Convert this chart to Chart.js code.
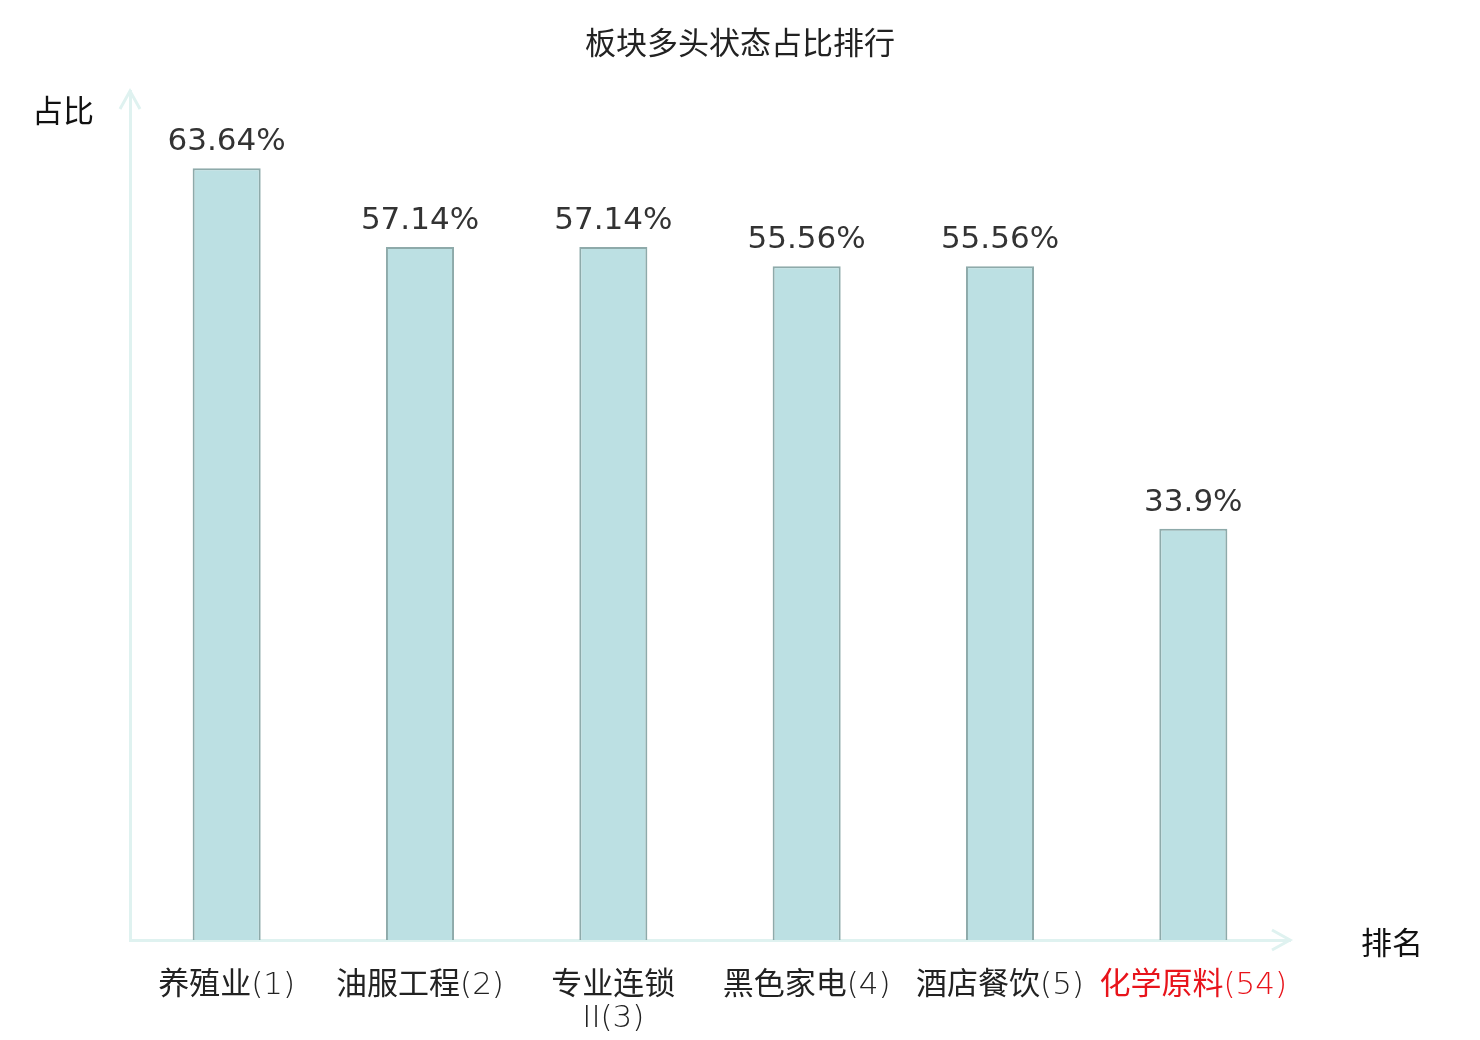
<!DOCTYPE html>
<html><head><meta charset="utf-8">
<script src="https://cdn.jsdelivr.net/npm/chart.js@4/dist/chart.umd.min.js"></script>
<style>html,body{margin:0;padding:0;background:#fff}#wrap{width:1480px;height:1040px}</style>
</head><body><div id="wrap"><canvas id="c" width="1480" height="1040"></canvas></div>
<script>
const categories = ["养殖业(1)", "油服工程(2)", ["专业连锁", "II(3)"], "黑色家电(4)", "酒店餐饮(5)", "化学原料(54)"];
const values = [63.64, 57.14, 57.14, 55.56, 55.56, 33.9];
const valueLabels = ["63.64%", "57.14%", "57.14%", "55.56%", "55.56%", "33.9%"];
const highlightIndex = 5;
const titleText = "板块多头状态占比排行";
const yTitle = "占比";
const xTitle = "排名";

const FONT = "'DejaVu Sans', 'Noto Sans CJK SC', sans-serif";
const CJK = "'Noto Sans CJK SC', 'DejaVu Sans', sans-serif";
const LABEL = "'DejaVu Sans Light', 'Noto Sans CJK SC', sans-serif";
const AXIS = "#dff2f0";

const deco = {
  id: 'deco',
  afterDraw(chart) {
    const {ctx, chartArea: a} = chart;
    ctx.save();
    ctx.fillStyle = '#222';
    ctx.font = "31px " + CJK;
    ctx.textAlign = 'center';
    ctx.textBaseline = 'middle';
    ctx.fillText(titleText, 740, 42);
    ctx.fillStyle = '#111';
    ctx.fillText(yTitle, 63, 110);
    ctx.fillText(xTitle, 1392, 942);
    ctx.strokeStyle = AXIS;
    ctx.lineWidth = 3;
    ctx.beginPath();
    ctx.moveTo(a.left - 10, a.top + 18);
    ctx.lineTo(a.left, a.top);
    ctx.lineTo(a.left + 10, a.top + 18);
    ctx.moveTo(a.right - 18, a.bottom - 10);
    ctx.lineTo(a.right, a.bottom);
    ctx.lineTo(a.right - 18, a.bottom + 10);
    ctx.stroke();
    const meta = chart.getDatasetMeta(0);
    ctx.fillStyle = '#333';
    ctx.font = "31px " + FONT;
    ctx.textBaseline = 'alphabetic';
    meta.data.forEach((bar, i) => {
      ctx.fillText(valueLabels[i], bar.x, bar.y - 18);
    });
    ctx.restore();
  }
};

new Chart(document.getElementById('c'), {
  type: 'bar',
  data: {
    labels: categories,
    datasets: [{
      data: values,
      backgroundColor: '#bce0e3',
      borderColor: '#8eaaaa',
      borderWidth: 2,
      categoryPercentage: 1,
      barPercentage: 0.352
    }]
  },
  options: {
    responsive: false,
    animation: false,
    layout: {padding: {left: 130, right: 190, top: 91, bottom: 0}},
    plugins: {legend: {display: false}, tooltip: {enabled: false}, title: {display: false}},
    scales: {
      x: {
        grid: {display: false, drawTicks: false},
        border: {display: true, color: AXIS, width: 3},
        ticks: {
          font: {size: 31, family: LABEL, lineHeight: 1.05},
          color: (c) => c.index === highlightIndex ? '#e8141b' : '#222',
          padding: 30,
          maxRotation: 0,
          autoSkip: false
        },
        afterFit: (s) => { s.height = 100; }
      },
      y: {
        min: 0, max: 70,
        grid: {display: false, drawTicks: false},
        border: {display: true, color: AXIS, width: 3},
        ticks: {display: false},
        afterFit: (s) => { s.width = 0; }
      }
    }
  },
  plugins: [deco]
});
</script></body></html>
